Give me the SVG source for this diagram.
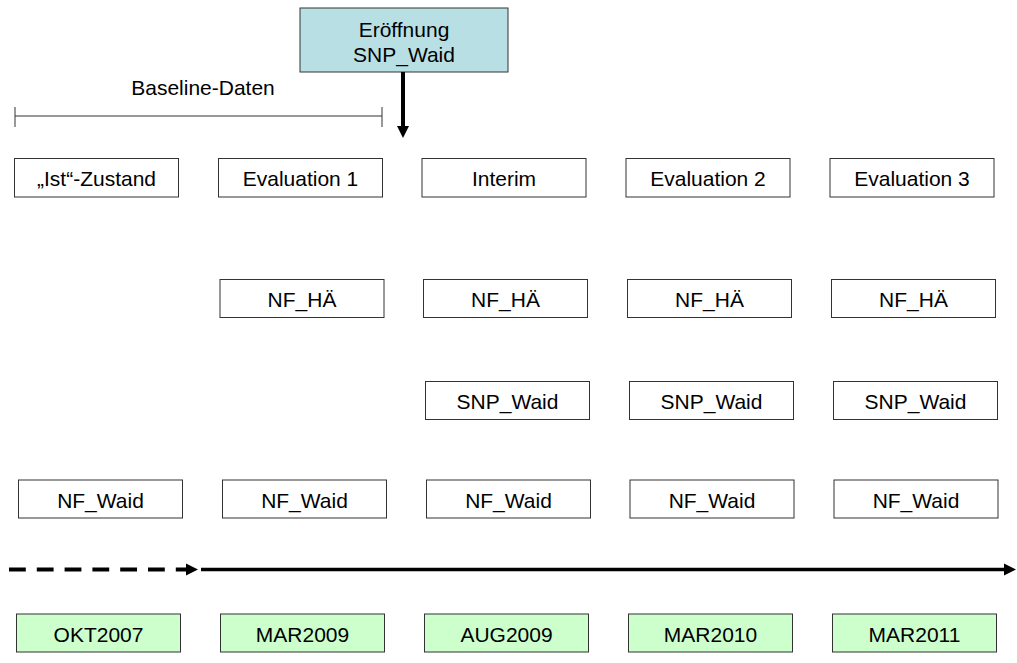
<svg xmlns="http://www.w3.org/2000/svg" width="1017" height="663" viewBox="0 0 1017 663">
<style>
.b{fill:#ffffff;stroke:#333333;stroke-width:1}
.g{fill:#ccffcc;stroke:#333333;stroke-width:1}
.c{fill:#b8dfe3;stroke:#333333;stroke-width:1}
.t{font-family:"Liberation Sans",Arial,sans-serif;font-size:20px;fill:#000000;text-anchor:middle}
.k{stroke:#000000;fill:none}
</style>
<defs>
<marker id="ah" markerUnits="userSpaceOnUse" markerWidth="12" markerHeight="12" refX="4" refY="6" orient="auto" overflow="visible">
<path d="M0,0 L12,6 L0,12 z" fill="#000000"/>
</marker>
</defs>
<rect width="1017" height="663" fill="#ffffff"/>

<g id="eroeffnung">
<rect class="c" x="300" y="8" width="208" height="64"/>
<text class="t" transform="translate(404 36.5) scale(1.05 1)">Eröffnung</text>
<text class="t" transform="translate(404 61.5) scale(1.05 1)">SNP_Waid</text>
</g>

<g id="baseline">
<text class="t" transform="translate(203 95) scale(1.05 1)">Baseline-Daten</text>
<path d="M15,116 H382 M15,107 V127 M382,107 V127" stroke="#333333" stroke-width="1" fill="none"/>
</g>

<g id="connectors">
<line class="k" x1="403" y1="72" x2="403" y2="130" stroke-width="4" marker-end="url(#ah)"/>
<line class="k" x1="9" y1="569.5" x2="190" y2="569.5" stroke-width="4" stroke-dasharray="16.8 11" marker-end="url(#ah)"/>
<line class="k" x1="201" y1="569.5" x2="1008" y2="569.5" stroke-width="3.5" marker-end="url(#ah)"/>
</g>

<g id="ist-zustand"><rect class="b" x="14.5" y="158.5" width="164" height="38.5"/><text class="t" transform="translate(96.5 186) scale(1.05 1)">„Ist“-Zustand</text></g>
<g id="evaluation1"><rect class="b" x="218.5" y="158.5" width="164" height="38.5"/><text class="t" transform="translate(300.5 186) scale(1.05 1)">Evaluation 1</text></g>
<g id="interim"><rect class="b" x="422" y="158.5" width="164" height="38.5"/><text class="t" transform="translate(504 186) scale(1.05 1)">Interim</text></g>
<g id="evaluation2"><rect class="b" x="626" y="158.5" width="164" height="38.5"/><text class="t" transform="translate(708 186) scale(1.05 1)">Evaluation 2</text></g>
<g id="evaluation3"><rect class="b" x="830" y="158.5" width="164" height="38.5"/><text class="t" transform="translate(912 186) scale(1.05 1)">Evaluation 3</text></g>

<g id="nfha-1"><rect class="b" x="220" y="279.5" width="164" height="38"/><text class="t" transform="translate(302 307) scale(1.05 1)">NF_HÄ</text></g>
<g id="nfha-2"><rect class="b" x="423.5" y="279.5" width="164" height="38"/><text class="t" transform="translate(505.5 307) scale(1.05 1)">NF_HÄ</text></g>
<g id="nfha-3"><rect class="b" x="627.5" y="279.5" width="164" height="38"/><text class="t" transform="translate(709.5 307) scale(1.05 1)">NF_HÄ</text></g>
<g id="nfha-4"><rect class="b" x="831.5" y="279.5" width="164" height="38"/><text class="t" transform="translate(913.5 307) scale(1.05 1)">NF_HÄ</text></g>

<g id="snp-1"><rect class="b" x="425.5" y="381.5" width="164" height="38"/><text class="t" transform="translate(507.5 409) scale(1.05 1)">SNP_Waid</text></g>
<g id="snp-2"><rect class="b" x="629.5" y="381.5" width="164" height="38"/><text class="t" transform="translate(711.5 409) scale(1.05 1)">SNP_Waid</text></g>
<g id="snp-3"><rect class="b" x="833.5" y="381.5" width="164" height="38"/><text class="t" transform="translate(915.5 409) scale(1.05 1)">SNP_Waid</text></g>

<g id="nfwaid-1"><rect class="b" x="18.5" y="480" width="164" height="38"/><text class="t" transform="translate(100.5 508) scale(1.05 1)">NF_Waid</text></g>
<g id="nfwaid-2"><rect class="b" x="222.5" y="480" width="164" height="38"/><text class="t" transform="translate(304.5 508) scale(1.05 1)">NF_Waid</text></g>
<g id="nfwaid-3"><rect class="b" x="426.5" y="480" width="164" height="38"/><text class="t" transform="translate(508.5 508) scale(1.05 1)">NF_Waid</text></g>
<g id="nfwaid-4"><rect class="b" x="630" y="480" width="164" height="38"/><text class="t" transform="translate(712 508) scale(1.05 1)">NF_Waid</text></g>
<g id="nfwaid-5"><rect class="b" x="834" y="480" width="164" height="38"/><text class="t" transform="translate(916 508) scale(1.05 1)">NF_Waid</text></g>

<g id="okt2007"><rect class="g" x="16.5" y="614" width="164" height="38"/><text class="t" transform="translate(98.5 642) scale(1.05 1)">OKT2007</text></g>
<g id="mar2009"><rect class="g" x="220.5" y="614" width="164" height="38"/><text class="t" transform="translate(302.5 642) scale(1.05 1)">MAR2009</text></g>
<g id="aug2009"><rect class="g" x="424.5" y="614" width="164" height="38"/><text class="t" transform="translate(506.5 642) scale(1.05 1)">AUG2009</text></g>
<g id="mar2010"><rect class="g" x="628.5" y="614" width="164" height="38"/><text class="t" transform="translate(710.5 642) scale(1.05 1)">MAR2010</text></g>
<g id="mar2011"><rect class="g" x="832.5" y="614" width="164" height="38"/><text class="t" transform="translate(914.5 642) scale(1.05 1)">MAR2011</text></g>
</svg>
